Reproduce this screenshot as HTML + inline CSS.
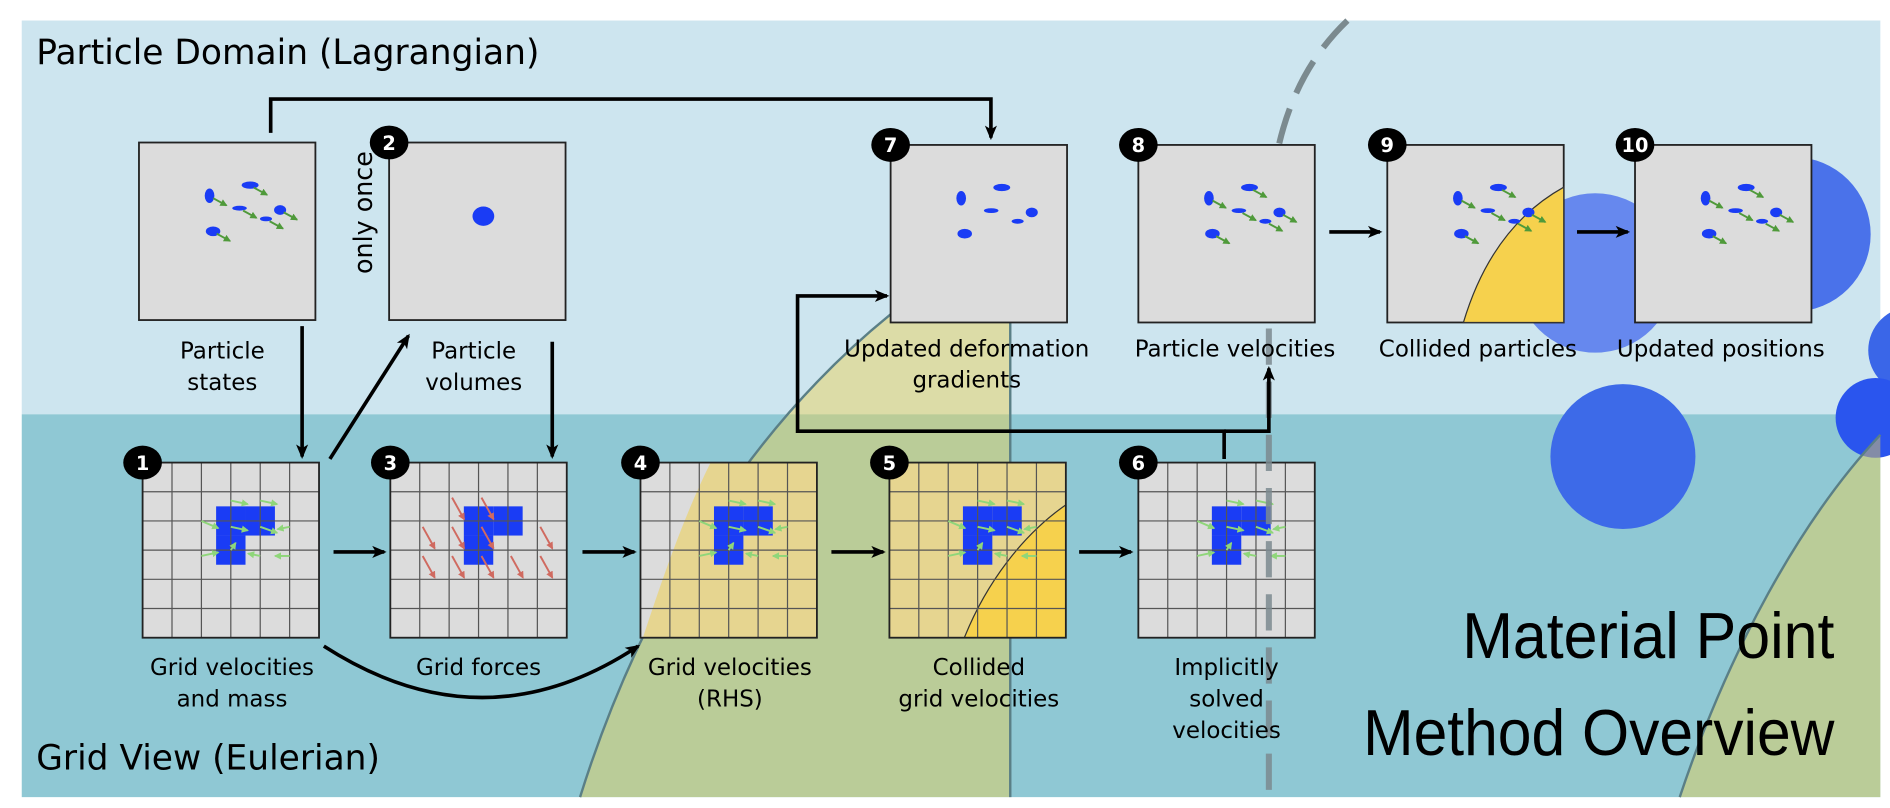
<!DOCTYPE html>
<html><head><meta charset="utf-8"><style>
html,body{margin:0;padding:0;background:#fff;}
svg{display:block;}
text{font-family:"DejaVu Sans","Liberation Sans",sans-serif;}
</style></head><body>
<svg id="s" width="1890" height="808" viewBox="0 0 1564 669" preserveAspectRatio="none" xmlns="http://www.w3.org/2000/svg">
<defs>
<marker id="ahs" markerWidth="12" markerHeight="12" refX="10" refY="6" orient="auto" markerUnits="userSpaceOnUse"><path d="M0,1 L12,6 L0,11 L3,6 Z" fill="#000"/></marker>
<marker id="ga" markerWidth="6" markerHeight="6" refX="5" refY="3" orient="auto" markerUnits="userSpaceOnUse"><path d="M0,0 L6,3 L0,6 Z" fill="#4f9a3a"/></marker>
<marker id="la" markerWidth="6" markerHeight="6" refX="5" refY="3" orient="auto" markerUnits="userSpaceOnUse"><path d="M0,0 L6,3 L0,6 Z" fill="#8fd67a"/></marker>
<marker id="ra" markerWidth="6" markerHeight="6" refX="5" refY="3" orient="auto" markerUnits="userSpaceOnUse"><path d="M0,0 L6,3 L0,6 Z" fill="#d06a60"/></marker>
</defs>
<rect x="18" y="17" width="1538" height="326" fill="#cde5ef"/>
<rect x="18" y="343" width="1538" height="317" fill="#8fc8d4"/>

<g>
<circle cx="1320" cy="226" r="66" fill="#6688ee"/>
<circle cx="1343" cy="378" r="60" fill="#3d6ae8"/>
<circle cx="1484" cy="194" r="64" fill="#4a72ea"/>
<circle cx="1582" cy="290" r="36" fill="#3a66e8"/>
<circle cx="1552" cy="346" r="33" fill="#2a55ee"/>
</g>

<text x="30" y="53" font-size="28.5" fill="#000">Particle Domain (Lagrangian)</text>
<text x="30" y="637" font-size="28.5" fill="#000">Grid View (Eulerian)</text>

<path d="M1115,17 C1070,60 1050,120 1050,200 L1050,265" fill="none" stroke="#7b8a8f" stroke-width="5" stroke-dasharray="30,14"/>

<g id="boxes"></g>

<path d="M480,660 C530,500 620,350 750,250 L836,250 L836,660 Z" fill="#f0d050" fill-opacity="0.45"/>
<path d="M480,660 C530,500 620,350 750,250" fill="none" stroke="#5a7f86" stroke-width="2"/>
<line x1="836" y1="250" x2="836" y2="660" stroke="#5a7f86" stroke-width="2"/>
<path d="M1390,660 C1430,540 1490,430 1556,360 L1556,660 Z" fill="#f0d050" fill-opacity="0.45"/>
<path d="M1390,660 C1430,540 1490,430 1556,360" fill="none" stroke="#5a7f86" stroke-width="2"/>

<g id="boxes2"></g>

<path d="M1050,272 L1050,660" fill="none" stroke="#7b8a8f" stroke-opacity="0.85" stroke-width="5" stroke-dasharray="30,14"/>

<g stroke="#000" stroke-width="3" fill="none">
<path d="M224,110 L224,82 L820,82 L820,114" marker-end="url(#ahs)"/>
<path d="M250,270 L250,378" marker-end="url(#ahs)"/>
<path d="M273,380 L338,278" marker-end="url(#ahs)"/>
<path d="M457,283 L457,378" marker-end="url(#ahs)"/>
<path d="M276,457 L318,457" marker-end="url(#ahs)"/>
<path d="M482,457 L525,457" marker-end="url(#ahs)"/>
<path d="M688,457 L731,457" marker-end="url(#ahs)"/>
<path d="M893,457 L936,457" marker-end="url(#ahs)"/>
<path d="M268,535 Q400,620 528,535" marker-end="url(#ahs)"/>
<path d="M1013,380 L1013,357 L660,357 L660,245 L734,245" marker-end="url(#ahs)"/>
<path d="M1013,357 L1050,357 L1050,305" marker-end="url(#ahs)"/>
<path d="M1100,192 L1142,192" marker-end="url(#ahs)"/>
<path d="M1305,192 L1347,192" marker-end="url(#ahs)"/>
</g>

<g font-size="19" text-anchor="middle" fill="#000">
<text x="184" y="297">Particle</text><text x="184" y="323">states</text>
<text x="392" y="297">Particle</text><text x="392" y="323">volumes</text>
<text x="800" y="295">Updated deformation</text><text x="800" y="321">gradients</text>
<text x="1022" y="295">Particle velocities</text>
<text x="1223" y="295">Collided particles</text>
<text x="1424" y="295">Updated positions</text>
<text x="192" y="559">Grid velocities</text><text x="192" y="585">and mass</text>
<text x="396" y="559">Grid forces</text>
<text x="604" y="559">Grid velocities</text><text x="604" y="585">(RHS)</text>
<text x="810" y="559">Collided</text><text x="810" y="585">grid velocities</text>
<text x="1015" y="559">Implicitly</text><text x="1015" y="585">solved</text><text x="1015" y="611">velocities</text>
</g>
<text transform="translate(308,176) rotate(-90)" font-size="21" text-anchor="middle" fill="#000">only once</text>

<g font-size="54" text-anchor="end" fill="#000">
<text x="1518" y="545" textLength="308" lengthAdjust="spacingAndGlyphs" style="font-family:'Liberation Sans Narrow','Liberation Sans',sans-serif">Material Point</text>
<text x="1518" y="625" textLength="390" lengthAdjust="spacingAndGlyphs" style="font-family:'Liberation Sans Narrow','Liberation Sans',sans-serif">Method Overview</text>
</g>
</svg>
<script>
const NS='http://www.w3.org/2000/svg';
const topBoxX=[115,322,737,942,1148,1353];
const gridBoxX=[118,323,530,736,942];
const gridNums=['1','3','4','5','6'];
const topNums=['','2','7','8','9','10'];
function mk(tag,attrs,parent){const e=document.createElementNS(NS,tag);for(const k in attrs)e.setAttribute(k,attrs[k]);parent.appendChild(e);return e;}
const g1=document.getElementById('boxes'), g2=document.getElementById('boxes2');
function badge(x,y,t,p){
  const g=mk('g',{},p);
  
  
  mk('ellipse',{cx:x,cy:y,rx:16,ry:14,fill:'#000'},g);
  const tx=mk('text',{x:x,y:y+6,'font-size':16,'font-weight':'bold','text-anchor':'middle',fill:'#fff'},g);tx.textContent=t;
}
gridBoxX.forEach((x,i)=>{
  const par=(i<2)?g1:g2;
  const g=mk('g',{},par);
  
  
  const y=383,w=146,h=145,c=w/6,r=h/6;
  mk('rect',{x:x,y:y,width:w,height:h,fill:i===3?'#e6d590':'#dcdcdc'},g);
  if(i===2){mk('path',{d:`M${x+2},${y+h} C${x+20},${y+90} ${x+38},${y+40} ${x+58},${y} L${x+w},${y} L${x+w},${y+h} Z`,fill:'#e6d590'},g);}
  if(i===3){mk('path',{d:`M${x+62},${y+h} C${x+80},${y+100} ${x+110},${y+60} ${x+w},${y+35} L${x+w},${y+h} Z`,fill:'#f6d14d',stroke:'#333','stroke-width':1},g);}
  const cells=[[2.5,1.5],[3.5,1.5],[2.5,2.5]];
  cells.forEach(cl=>mk('rect',{x:x+cl[0]*c,y:y+cl[1]*r,width:c,height:r,fill:'#1a3cf5'},g));
  for(let k=1;k<6;k++){mk('line',{x1:x+k*c,y1:y,x2:x+k*c,y2:y+h,stroke:'#555','stroke-width':1},g);mk('line',{x1:x,y1:y+k*r,x2:x+w,y2:y+k*r,stroke:'#555','stroke-width':1},g);}
  mk('rect',{x:x,y:y,width:w,height:h,fill:'none',stroke:'#222','stroke-width':1.5},g);
  const col=i===1?'#d06a60':'#8fd67a', m=i===1?'url(#ra)':'url(#la)';
  const vec=i===1?[[2.1,1.2,10,18],[3.1,1.2,10,18],[3.1,2.2,10,18],[2.1,2.2,10,18],[1.1,2.2,10,18],[1.1,3.2,10,18],[2.1,3.2,10,18],[3.1,3.2,10,18],[5.1,2.2,10,18],[5.1,3.2,10,18],[4.1,3.2,10,18]]
    :[[3,1.3,14,3],[4,1.3,14,3],[2,2,14,6],[3,2.2,14,3],[4,2.2,14,5],[2,3.2,14,-3],[3,3,4,-6],[4,3.2,-10,-2],[5,3.2,-12,0],[5,2.2,-10,2]];
  vec.forEach(v=>mk('line',{x1:x+v[0]*c,y1:y+v[1]*r,x2:x+v[0]*c+v[2],y2:y+v[1]*r+v[3],stroke:col,'stroke-width':1.6,'marker-end':m},g));
  badge(x,y,gridNums[i],g);
});
const dots=[[0.40,0.30,4,6],[0.63,0.24,7,3],[0.80,0.38,5,4],[0.57,0.37,6,2],[0.72,0.43,5,2],[0.42,0.50,6,4]];
topBoxX.forEach((x,i)=>{
  const g=mk('g',{},g2);
  
  
  const y=i>=2?120:118,w=146,h=147;
  mk('rect',{x:x,y:y,width:w,height:h,fill:'#dcdcdc',stroke:'#222','stroke-width':1.5},g);
  if(i===4){mk('path',{d:`M${x+63},${y+h} C${x+80},${y+90} ${x+110},${y+55} ${x+w},${y+35} L${x+w},${y+h} Z`,fill:'#f6d14d',stroke:'#333','stroke-width':1},g);}
  if(i===1){mk('ellipse',{cx:x+78,cy:y+61,rx:9,ry:8,fill:'#1a3cf5'},g);}
  else{
    dots.forEach((d,k)=>{
      const cx=x+d[0]*w, cy=y+d[1]*h;
      mk('ellipse',{cx:cx,cy:cy,rx:d[2],ry:d[3],fill:'#1a3cf5'},g);
      if(i!==2) mk('line',{x1:cx+3,y1:cy+2,x2:cx+14,y2:cy+8,stroke:'#4f9a3a','stroke-width':1.6,'marker-end':'url(#ga)'},g);
    });
  }
  if(topNums[i]) badge(x,y,topNums[i],g);
});
</script>
</body></html>
